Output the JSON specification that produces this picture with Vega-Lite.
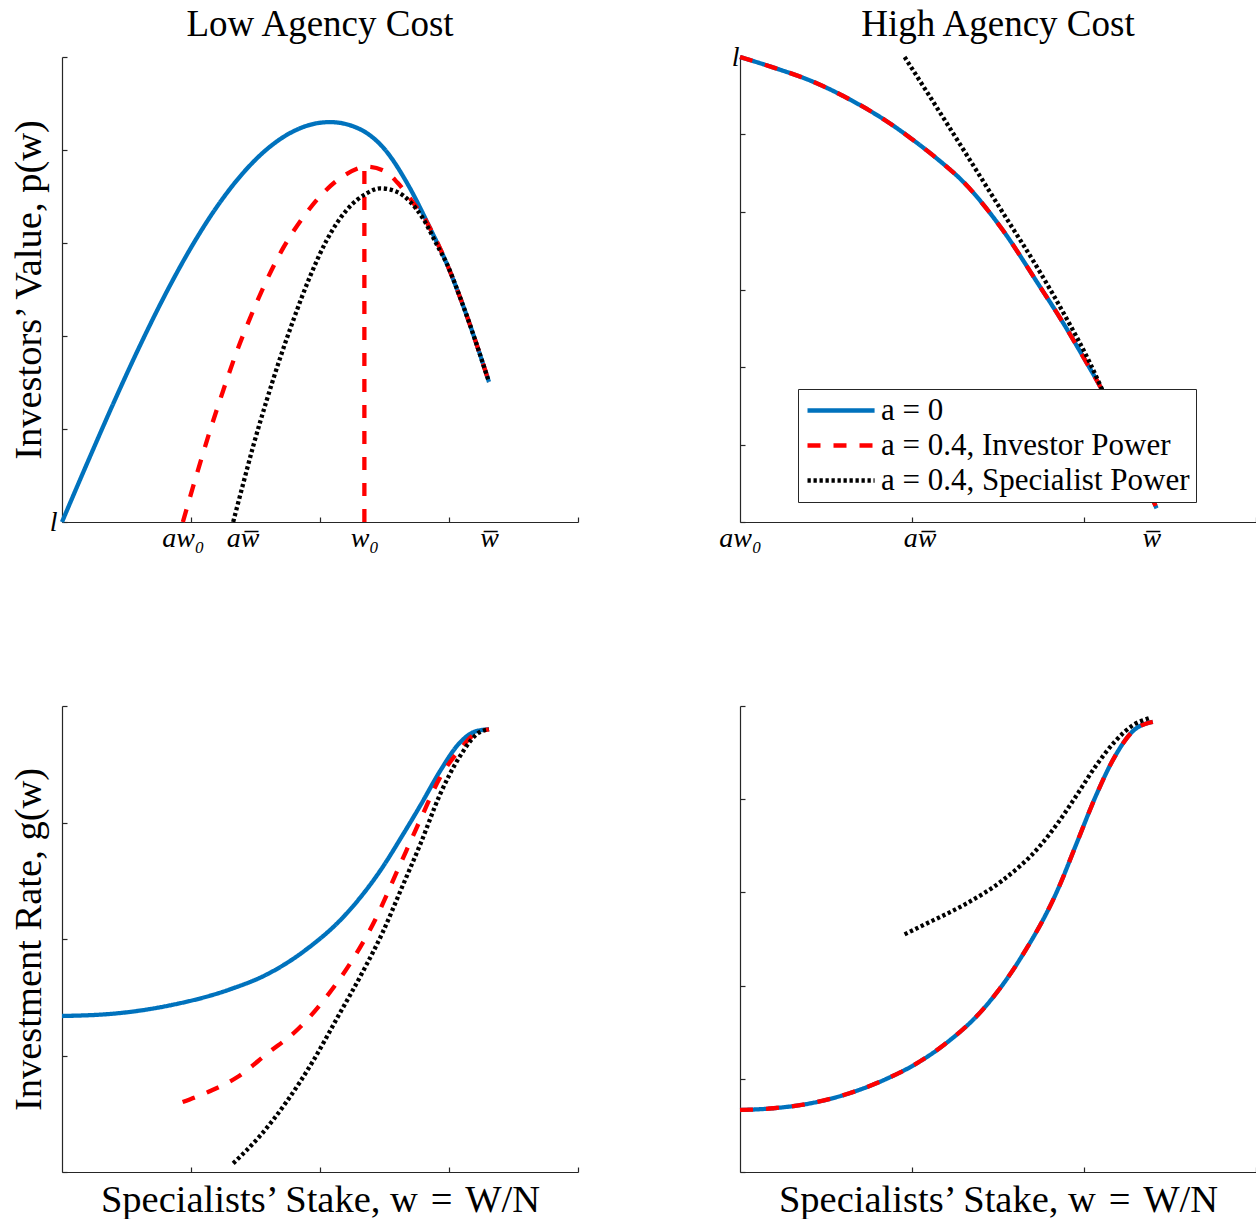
{
  "$schema": "https://vega.github.io/schema/vega-lite/v6.json",
  "padding": {"left": 9, "top": 6, "right": 0, "bottom": 0},
  "background": "white",
  "config": {
    "view": {"stroke": null},
    "font": "Liberation Serif",
    "axis": {"domainColor": "#262626", "tickColor": "#262626", "domainWidth": 1.2, "tickWidth": 1.2, "grid": false,
      "labelFont": "Liberation Serif", "labelFontSize": 28, "labelFontStyle": "italic", "labelColor": "#000",
      "titleFont": "Liberation Serif", "titleFontSize": 38.5, "titleFontWeight": "normal", "titleColor": "#000",
      "labelFlush": false, "labelOverlap": false, "labelBound": false},
    "title": {"font": "Liberation Serif", "fontSize": 37, "fontWeight": "normal", "color": "#000", "anchor": "middle", "baseline": "alphabetic", "offset": -1, "frame": "group"}
  },
  "datasets": {
    "tl": [
      {"x":0,"y":0,"s":"a = 0","g":"m"},{"x":0.2,"y":0.648,"s":"a = 0","g":"m"},{"x":0.4,"y":1.281,"s":"a = 0","g":"m"},{"x":0.6,"y":1.884,"s":"a = 0","g":"m"},{"x":0.8,"y":2.445,"s":"a = 0","g":"m"},{"x":1.0,"y":2.95,"s":"a = 0","g":"m"},{"x":1.2,"y":3.388,"s":"a = 0","g":"m"},{"x":1.4,"y":3.747,"s":"a = 0","g":"m"},{"x":1.6,"y":4.022,"s":"a = 0","g":"m"},{"x":1.8,"y":4.205,"s":"a = 0","g":"m"},{"x":2.0,"y":4.293,"s":"a = 0","g":"m"},{"x":2.078,"y":4.3,"s":"a = 0","g":"m"},{"x":2.284,"y":4.24,"s":"a = 0","g":"m"},{"x":2.5,"y":4.01,"s":"a = 0","g":"m"},{"x":2.685,"y":3.62,"s":"a = 0","g":"m"},{"x":2.853,"y":3.16,"s":"a = 0","g":"m"},{"x":2.982,"y":2.78,"s":"a = 0","g":"m"},{"x":3.098,"y":2.37,"s":"a = 0","g":"m"},{"x":3.31,"y":1.505,"s":"a = 0","g":"m"},
      {"x":0.937,"y":0,"s":"a = 0.4, Investor Power","g":"m"},{"x":1.031,"y":0.45,"s":"a = 0.4, Investor Power","g":"m"},{"x":1.147,"y":0.98,"s":"a = 0.4, Investor Power","g":"m"},{"x":1.251,"y":1.42,"s":"a = 0.4, Investor Power","g":"m"},{"x":1.354,"y":1.83,"s":"a = 0.4, Investor Power","g":"m"},{"x":1.457,"y":2.19,"s":"a = 0.4, Investor Power","g":"m"},{"x":1.587,"y":2.6,"s":"a = 0.4, Investor Power","g":"m"},{"x":1.716,"y":2.95,"s":"a = 0.4, Investor Power","g":"m"},{"x":1.871,"y":3.28,"s":"a = 0.4, Investor Power","g":"m"},{"x":2.026,"y":3.54,"s":"a = 0.4, Investor Power","g":"m"},{"x":2.181,"y":3.72,"s":"a = 0.4, Investor Power","g":"m"},{"x":2.362,"y":3.82,"s":"a = 0.4, Investor Power","g":"m"},{"x":2.517,"y":3.76,"s":"a = 0.4, Investor Power","g":"m"},{"x":2.6,"y":3.65,"s":"a = 0.4, Investor Power","g":"m"},{"x":2.672,"y":3.53,"s":"a = 0.4, Investor Power","g":"m"},{"x":2.74,"y":3.4,"s":"a = 0.4, Investor Power","g":"m"},{"x":2.8,"y":3.29,"s":"a = 0.4, Investor Power","g":"m"},{"x":2.853,"y":3.16,"s":"a = 0.4, Investor Power","g":"m"},{"x":2.982,"y":2.78,"s":"a = 0.4, Investor Power","g":"m"},{"x":3.098,"y":2.37,"s":"a = 0.4, Investor Power","g":"m"},{"x":3.31,"y":1.505,"s":"a = 0.4, Investor Power","g":"m"},
      {"x":2.344,"y":0,"s":"a = 0.4, Investor Power","g":"v"},{"x":2.344,"y":3.815,"s":"a = 0.4, Investor Power","g":"v"},
      {"x":1.327,"y":0,"s":"a = 0.4, Specialist Power","g":"m"},{"x":1.406,"y":0.42,"s":"a = 0.4, Specialist Power","g":"m"},{"x":1.483,"y":0.82,"s":"a = 0.4, Specialist Power","g":"m"},{"x":1.587,"y":1.31,"s":"a = 0.4, Specialist Power","g":"m"},{"x":1.69,"y":1.76,"s":"a = 0.4, Specialist Power","g":"m"},{"x":1.793,"y":2.17,"s":"a = 0.4, Specialist Power","g":"m"},{"x":1.922,"y":2.638,"s":"a = 0.4, Specialist Power","g":"m"},{"x":2.052,"y":3.03,"s":"a = 0.4, Specialist Power","g":"m"},{"x":2.207,"y":3.355,"s":"a = 0.4, Specialist Power","g":"m"},{"x":2.362,"y":3.534,"s":"a = 0.4, Specialist Power","g":"m"},{"x":2.465,"y":3.588,"s":"a = 0.4, Specialist Power","g":"m"},{"x":2.594,"y":3.552,"s":"a = 0.4, Specialist Power","g":"m"},{"x":2.698,"y":3.444,"s":"a = 0.4, Specialist Power","g":"m"},{"x":2.8,"y":3.26,"s":"a = 0.4, Specialist Power","g":"m"},{"x":2.91,"y":2.97,"s":"a = 0.4, Specialist Power","g":"m"},{"x":2.982,"y":2.78,"s":"a = 0.4, Specialist Power","g":"m"},{"x":3.098,"y":2.37,"s":"a = 0.4, Specialist Power","g":"m"},{"x":3.31,"y":1.505,"s":"a = 0.4, Specialist Power","g":"m"}
    ],
    "tr": [
      {"x":0,"y":6.0,"s":"a = 0","g":"m"},{"x":0.2,"y":5.86,"s":"a = 0","g":"m"},{"x":0.415,"y":5.69,"s":"a = 0","g":"m"},{"x":0.64,"y":5.45,"s":"a = 0","g":"m"},{"x":0.857,"y":5.165,"s":"a = 0","g":"m"},{"x":1.0,"y":4.94,"s":"a = 0","g":"m"},{"x":1.15,"y":4.68,"s":"a = 0","g":"m"},{"x":1.3,"y":4.385,"s":"a = 0","g":"m"},{"x":1.52,"y":3.79,"s":"a = 0","g":"m"},{"x":1.74,"y":3.05,"s":"a = 0","g":"m"},{"x":1.87,"y":2.6,"s":"a = 0","g":"m"},{"x":2.006,"y":2.09,"s":"a = 0","g":"m"},{"x":2.103,"y":1.712,"s":"a = 0","g":"m"},{"x":2.26,"y":0.98,"s":"a = 0","g":"m"},{"x":2.422,"y":0.177,"s":"a = 0","g":"m"},
      {"x":0,"y":6.0,"s":"a = 0.4, Investor Power","g":"m"},{"x":0.2,"y":5.86,"s":"a = 0.4, Investor Power","g":"m"},{"x":0.415,"y":5.69,"s":"a = 0.4, Investor Power","g":"m"},{"x":0.64,"y":5.45,"s":"a = 0.4, Investor Power","g":"m"},{"x":0.857,"y":5.165,"s":"a = 0.4, Investor Power","g":"m"},{"x":1.0,"y":4.94,"s":"a = 0.4, Investor Power","g":"m"},{"x":1.15,"y":4.68,"s":"a = 0.4, Investor Power","g":"m"},{"x":1.3,"y":4.385,"s":"a = 0.4, Investor Power","g":"m"},{"x":1.52,"y":3.79,"s":"a = 0.4, Investor Power","g":"m"},{"x":1.74,"y":3.05,"s":"a = 0.4, Investor Power","g":"m"},{"x":1.87,"y":2.6,"s":"a = 0.4, Investor Power","g":"m"},{"x":2.006,"y":2.09,"s":"a = 0.4, Investor Power","g":"m"},{"x":2.103,"y":1.712,"s":"a = 0.4, Investor Power","g":"m"},{"x":2.26,"y":0.98,"s":"a = 0.4, Investor Power","g":"m"},{"x":2.422,"y":0.177,"s":"a = 0.4, Investor Power","g":"m"},
      {"x":0.957,"y":6.0,"s":"a = 0.4, Specialist Power","g":"m"},{"x":1.078,"y":5.58,"s":"a = 0.4, Specialist Power","g":"m"},{"x":1.3,"y":4.8,"s":"a = 0.4, Specialist Power","g":"m"},{"x":1.52,"y":4.02,"s":"a = 0.4, Specialist Power","g":"m"},{"x":1.74,"y":3.24,"s":"a = 0.4, Specialist Power","g":"m"},{"x":1.9,"y":2.62,"s":"a = 0.4, Specialist Power","g":"m"},{"x":2.035,"y":2.05,"s":"a = 0.4, Specialist Power","g":"m"},{"x":2.093,"y":1.77,"s":"a = 0.4, Specialist Power","g":"m"},{"x":2.2,"y":1.25,"s":"a = 0.4, Specialist Power","g":"m"}
    ],
    "bl": [
      {"x":0,"y":1.339,"s":"a = 0","g":"m"},{"x":0.407,"y":1.36,"s":"a = 0","g":"m"},{"x":0.852,"y":1.434,"s":"a = 0","g":"m"},{"x":1.3,"y":1.567,"s":"a = 0","g":"m"},{"x":1.595,"y":1.7,"s":"a = 0","g":"m"},{"x":1.89,"y":1.907,"s":"a = 0","g":"m"},{"x":2.19,"y":2.2,"s":"a = 0","g":"m"},{"x":2.485,"y":2.616,"s":"a = 0","g":"m"},{"x":2.634,"y":2.88,"s":"a = 0","g":"m"},{"x":2.78,"y":3.15,"s":"a = 0","g":"m"},{"x":2.93,"y":3.44,"s":"a = 0","g":"m"},{"x":3.08,"y":3.68,"s":"a = 0","g":"m"},{"x":3.2,"y":3.78,"s":"a = 0","g":"m"},{"x":3.31,"y":3.8,"s":"a = 0","g":"m"},
      {"x":0.935,"y":0.6,"s":"a = 0.4, Investor Power","g":"m"},{"x":1.15,"y":0.695,"s":"a = 0.4, Investor Power","g":"m"},{"x":1.357,"y":0.813,"s":"a = 0.4, Investor Power","g":"m"},{"x":1.595,"y":1.02,"s":"a = 0.4, Investor Power","g":"m"},{"x":1.83,"y":1.227,"s":"a = 0.4, Investor Power","g":"m"},{"x":2.04,"y":1.49,"s":"a = 0.4, Investor Power","g":"m"},{"x":2.25,"y":1.818,"s":"a = 0.4, Investor Power","g":"m"},{"x":2.43,"y":2.17,"s":"a = 0.4, Investor Power","g":"m"},{"x":2.6,"y":2.587,"s":"a = 0.4, Investor Power","g":"m"},{"x":2.78,"y":3.03,"s":"a = 0.4, Investor Power","g":"m"},{"x":2.93,"y":3.385,"s":"a = 0.4, Investor Power","g":"m"},{"x":3.08,"y":3.62,"s":"a = 0.4, Investor Power","g":"m"},{"x":3.2,"y":3.76,"s":"a = 0.4, Investor Power","g":"m"},{"x":3.31,"y":3.8,"s":"a = 0.4, Investor Power","g":"m"},
      {"x":1.327,"y":0.074,"s":"a = 0.4, Specialist Power","g":"m"},{"x":1.535,"y":0.31,"s":"a = 0.4, Specialist Power","g":"m"},{"x":1.743,"y":0.606,"s":"a = 0.4, Specialist Power","g":"m"},{"x":1.95,"y":0.96,"s":"a = 0.4, Specialist Power","g":"m"},{"x":2.13,"y":1.316,"s":"a = 0.4, Specialist Power","g":"m"},{"x":2.337,"y":1.73,"s":"a = 0.4, Specialist Power","g":"m"},{"x":2.485,"y":2.055,"s":"a = 0.4, Specialist Power","g":"m"},{"x":2.634,"y":2.44,"s":"a = 0.4, Specialist Power","g":"m"},{"x":2.78,"y":2.82,"s":"a = 0.4, Specialist Power","g":"m"},{"x":2.93,"y":3.24,"s":"a = 0.4, Specialist Power","g":"m"},{"x":3.08,"y":3.56,"s":"a = 0.4, Specialist Power","g":"m"},{"x":3.23,"y":3.77,"s":"a = 0.4, Specialist Power","g":"m"},{"x":3.31,"y":3.8,"s":"a = 0.4, Specialist Power","g":"m"}
    ],
    "br": [
      {"x":0,"y":0.665,"s":"a = 0","g":"m"},{"x":0.194,"y":0.684,"s":"a = 0","g":"m"},{"x":0.415,"y":0.739,"s":"a = 0","g":"m"},{"x":0.636,"y":0.845,"s":"a = 0","g":"m"},{"x":0.857,"y":1.004,"s":"a = 0","g":"m"},{"x":0.99,"y":1.126,"s":"a = 0","g":"m"},{"x":1.19,"y":1.37,"s":"a = 0","g":"m"},{"x":1.41,"y":1.74,"s":"a = 0","g":"m"},{"x":1.63,"y":2.29,"s":"a = 0","g":"m"},{"x":1.85,"y":3.04,"s":"a = 0","g":"m"},{"x":1.96,"y":3.54,"s":"a = 0","g":"m"},{"x":2.07,"y":4.04,"s":"a = 0","g":"m"},{"x":2.18,"y":4.46,"s":"a = 0","g":"m"},{"x":2.29,"y":4.74,"s":"a = 0","g":"m"},{"x":2.4,"y":4.83,"s":"a = 0","g":"m"},
      {"x":0,"y":0.665,"s":"a = 0.4, Investor Power","g":"m"},{"x":0.194,"y":0.684,"s":"a = 0.4, Investor Power","g":"m"},{"x":0.415,"y":0.739,"s":"a = 0.4, Investor Power","g":"m"},{"x":0.636,"y":0.845,"s":"a = 0.4, Investor Power","g":"m"},{"x":0.857,"y":1.004,"s":"a = 0.4, Investor Power","g":"m"},{"x":0.99,"y":1.126,"s":"a = 0.4, Investor Power","g":"m"},{"x":1.19,"y":1.37,"s":"a = 0.4, Investor Power","g":"m"},{"x":1.41,"y":1.74,"s":"a = 0.4, Investor Power","g":"m"},{"x":1.63,"y":2.29,"s":"a = 0.4, Investor Power","g":"m"},{"x":1.85,"y":3.04,"s":"a = 0.4, Investor Power","g":"m"},{"x":1.96,"y":3.54,"s":"a = 0.4, Investor Power","g":"m"},{"x":2.07,"y":4.04,"s":"a = 0.4, Investor Power","g":"m"},{"x":2.18,"y":4.46,"s":"a = 0.4, Investor Power","g":"m"},{"x":2.29,"y":4.74,"s":"a = 0.4, Investor Power","g":"m"},{"x":2.4,"y":4.83,"s":"a = 0.4, Investor Power","g":"m"},
      {"x":0.957,"y":2.55,"s":"a = 0.4, Specialist Power","g":"m"},{"x":1.078,"y":2.66,"s":"a = 0.4, Specialist Power","g":"m"},{"x":1.3,"y":2.864,"s":"a = 0.4, Specialist Power","g":"m"},{"x":1.52,"y":3.12,"s":"a = 0.4, Specialist Power","g":"m"},{"x":1.74,"y":3.49,"s":"a = 0.4, Specialist Power","g":"m"},{"x":1.85,"y":3.75,"s":"a = 0.4, Specialist Power","g":"m"},{"x":1.96,"y":4.05,"s":"a = 0.4, Specialist Power","g":"m"},{"x":2.07,"y":4.36,"s":"a = 0.4, Specialist Power","g":"m"},{"x":2.18,"y":4.62,"s":"a = 0.4, Specialist Power","g":"m"},{"x":2.29,"y":4.8,"s":"a = 0.4, Specialist Power","g":"m"},{"x":2.38,"y":4.87,"s":"a = 0.4, Specialist Power","g":"m"}
    ]
  },
  "resolve": {"scale": {"color": "independent", "strokeDash": "independent", "strokeWidth": "independent"}, "legend": {"color": "independent", "strokeDash": "independent", "strokeWidth": "independent"}},
  "bounds": "flush",
  "columns": 2,
  "spacing": {"row": 184, "column": 162},
  "concat": [
    {
      "width": 516, "height": 465,
      "title": {"text": "Low Agency Cost"},
      "data": {"name": "tl"},
      "resolve": {"axis": {"x": "independent"}},
      "layer": [
        {
          "mark": {"type": "line", "interpolate": "monotone"},
          "encoding": {
            "x": {"field": "x", "type": "quantitative", "scale": {"domain": [0, 4], "nice": false, "zero": false},
              "axis": {"orient": "bottom", "values": [1, 2, 3, 4], "labels": false, "title": null, "tickSize": -5}},
            "y": {"field": "y", "type": "quantitative", "scale": {"domain": [0, 5], "nice": false},
              "axis": {"values": [0, 1, 2, 3, 4, 5], "labelExpr": "datum.value == 0 ? 'l' : ''", "tickSize": -5, "labelPadding": 10, "labelBaseline": "middle",
                "title": "Investors’ Value, p(w)", "titleX": -22, "titleBaseline": "alphabetic"}},
            "color": {"field": "s", "type": "nominal", "scale": {"domain": ["a = 0", "a = 0.4, Investor Power", "a = 0.4, Specialist Power"], "range": ["#0072BD", "#FF0000", "#000000"]}, "legend": null},
            "strokeDash": {"field": "s", "type": "nominal", "scale": {"domain": ["a = 0", "a = 0.4, Investor Power", "a = 0.4, Specialist Power"], "range": [[1, 0], [13, 13], [3.3, 2.7]]}, "legend": null},
            "strokeWidth": {"field": "s", "type": "nominal", "scale": {"domain": ["a = 0", "a = 0.4, Investor Power", "a = 0.4, Specialist Power"], "range": [4.3, 4.3, 3.6]}, "legend": null},
            "detail": {"field": "g", "type": "nominal"}
          }
        },
        {
          "mark": {"type": "rule", "opacity": 0},
          "encoding": {
            "x": {"field": "x", "type": "quantitative", "scale": {"domain": [0, 4], "nice": false, "zero": false},
              "axis": {"orient": "bottom", "values": [0.937, 1.4, 2.344, 3.31], "labelExpr": "datum.value < 1 ? 'aw₀' : datum.value < 2 ? 'aw̅' : datum.value < 3 ? 'w₀' : 'w̅'", "ticks": false, "domain": false, "title": null, "labelPadding": 24, "labelBaseline": "alphabetic"}}
          }
        }
      ]
    },
    {
      "width": 516, "height": 465,
      "title": {"text": "High Agency Cost"},
      "data": {"name": "tr"},
      "resolve": {"axis": {"x": "independent"}},
      "layer": [
        {
          "mark": {"type": "line", "interpolate": "monotone"},
          "encoding": {
            "x": {"field": "x", "type": "quantitative", "scale": {"domain": [0, 3], "nice": false, "zero": false},
              "axis": {"orient": "bottom", "values": [1, 2, 3], "labels": false, "title": null, "tickSize": -5}},
            "y": {"field": "y", "type": "quantitative", "scale": {"domain": [0, 6], "nice": false},
              "axis": {"values": [0, 1, 2, 3, 4, 5, 6], "labelExpr": "datum.value == 6 ? 'l' : ''", "tickSize": -5, "labelPadding": 6, "labelBaseline": "middle", "title": null}},
            "color": {"field": "s", "type": "nominal", "scale": {"domain": ["a = 0", "a = 0.4, Investor Power", "a = 0.4, Specialist Power"], "range": ["#0072BD", "#FF0000", "#000000"]},
              "legend": {"orient": "none", "legendX": 58, "legendY": 332, "title": null, "symbolType": "M0,0H12", "symbolSize": 125, "symbolStrokeWidth": 4, "symbolOffset": -12, "labelFont": "Liberation Serif", "labelFontSize": 31, "labelColor": "#000", "labelOffset": 58, "labelLimit": 0, "fillColor": "white", "strokeColor": "#262626", "padding": 6, "rowPadding": 3}},
            "strokeDash": {"field": "s", "type": "nominal", "scale": {"domain": ["a = 0", "a = 0.4, Investor Power", "a = 0.4, Specialist Power"], "range": [[1, 0], [13, 13], [3.3, 2.7]]},
              "legend": {"orient": "none", "legendX": 58, "legendY": 332, "title": null, "symbolType": "M0,0H12", "symbolSize": 125, "symbolStrokeWidth": 4, "symbolOffset": -12, "labelFont": "Liberation Serif", "labelFontSize": 31, "labelColor": "#000", "labelOffset": 58, "labelLimit": 0, "fillColor": "white", "strokeColor": "#262626", "padding": 6, "rowPadding": 3}},
            "strokeWidth": {"field": "s", "type": "nominal", "scale": {"domain": ["a = 0", "a = 0.4, Investor Power", "a = 0.4, Specialist Power"], "range": [4.3, 4.3, 3.6]}, "legend": null},
            "detail": {"field": "g", "type": "nominal"}
          }
        },
        {
          "mark": {"type": "rule", "opacity": 0},
          "encoding": {
            "x": {"field": "x", "type": "quantitative", "scale": {"domain": [0, 3], "nice": false, "zero": false},
              "axis": {"orient": "bottom", "values": [0, 1.044, 2.392], "labelExpr": "datum.value < 0.5 ? 'aw₀' : datum.value < 2 ? 'aw̅' : 'w̅'", "ticks": false, "domain": false, "title": null, "labelPadding": 24, "labelBaseline": "alphabetic"}}
          }
        }
      ]
    },
    {
      "width": 516, "height": 466,
      "data": {"name": "bl"},
      "mark": {"type": "line", "interpolate": "monotone"},
      "encoding": {
        "x": {"field": "x", "type": "quantitative", "scale": {"domain": [0, 4], "nice": false, "zero": false},
          "axis": {"values": [1, 2, 3, 4], "labels": false, "tickSize": -5, "title": "Specialists’ Stake, w\u2004=\u2004W/N", "titleY": 39, "titleBaseline": "alphabetic"}},
        "y": {"field": "y", "type": "quantitative", "scale": {"domain": [0, 4], "nice": false},
          "axis": {"values": [0, 1, 2, 3, 4], "labels": false, "tickSize": -5, "title": "Investment Rate, g(w)", "titleX": -22, "titleBaseline": "alphabetic"}},
        "color": {"field": "s", "type": "nominal", "scale": {"domain": ["a = 0", "a = 0.4, Investor Power", "a = 0.4, Specialist Power"], "range": ["#0072BD", "#FF0000", "#000000"]}, "legend": null},
        "strokeDash": {"field": "s", "type": "nominal", "scale": {"domain": ["a = 0", "a = 0.4, Investor Power", "a = 0.4, Specialist Power"], "range": [[1, 0], [13, 13], [3.3, 2.7]]}, "legend": null},
        "strokeWidth": {"field": "s", "type": "nominal", "scale": {"domain": ["a = 0", "a = 0.4, Investor Power", "a = 0.4, Specialist Power"], "range": [4.3, 4.3, 3.6]}, "legend": null},
        "detail": {"field": "g", "type": "nominal"}
      }
    },
    {
      "width": 516, "height": 466,
      "data": {"name": "br"},
      "mark": {"type": "line", "interpolate": "monotone"},
      "encoding": {
        "x": {"field": "x", "type": "quantitative", "scale": {"domain": [0, 3], "nice": false, "zero": false},
          "axis": {"values": [1, 2, 3], "labels": false, "tickSize": -5, "title": "Specialists’ Stake, w\u2004=\u2004W/N", "titleY": 39, "titleBaseline": "alphabetic"}},
        "y": {"field": "y", "type": "quantitative", "scale": {"domain": [0, 5], "nice": false},
          "axis": {"values": [0, 1, 2, 3, 4, 5], "labels": false, "tickSize": -5, "title": null}},
        "color": {"field": "s", "type": "nominal", "scale": {"domain": ["a = 0", "a = 0.4, Investor Power", "a = 0.4, Specialist Power"], "range": ["#0072BD", "#FF0000", "#000000"]}, "legend": null},
        "strokeDash": {"field": "s", "type": "nominal", "scale": {"domain": ["a = 0", "a = 0.4, Investor Power", "a = 0.4, Specialist Power"], "range": [[1, 0], [13, 13], [3.3, 2.7]]}, "legend": null},
        "strokeWidth": {"field": "s", "type": "nominal", "scale": {"domain": ["a = 0", "a = 0.4, Investor Power", "a = 0.4, Specialist Power"], "range": [4.3, 4.3, 3.6]}, "legend": null},
        "detail": {"field": "g", "type": "nominal"}
      }
    }
  ]
}
